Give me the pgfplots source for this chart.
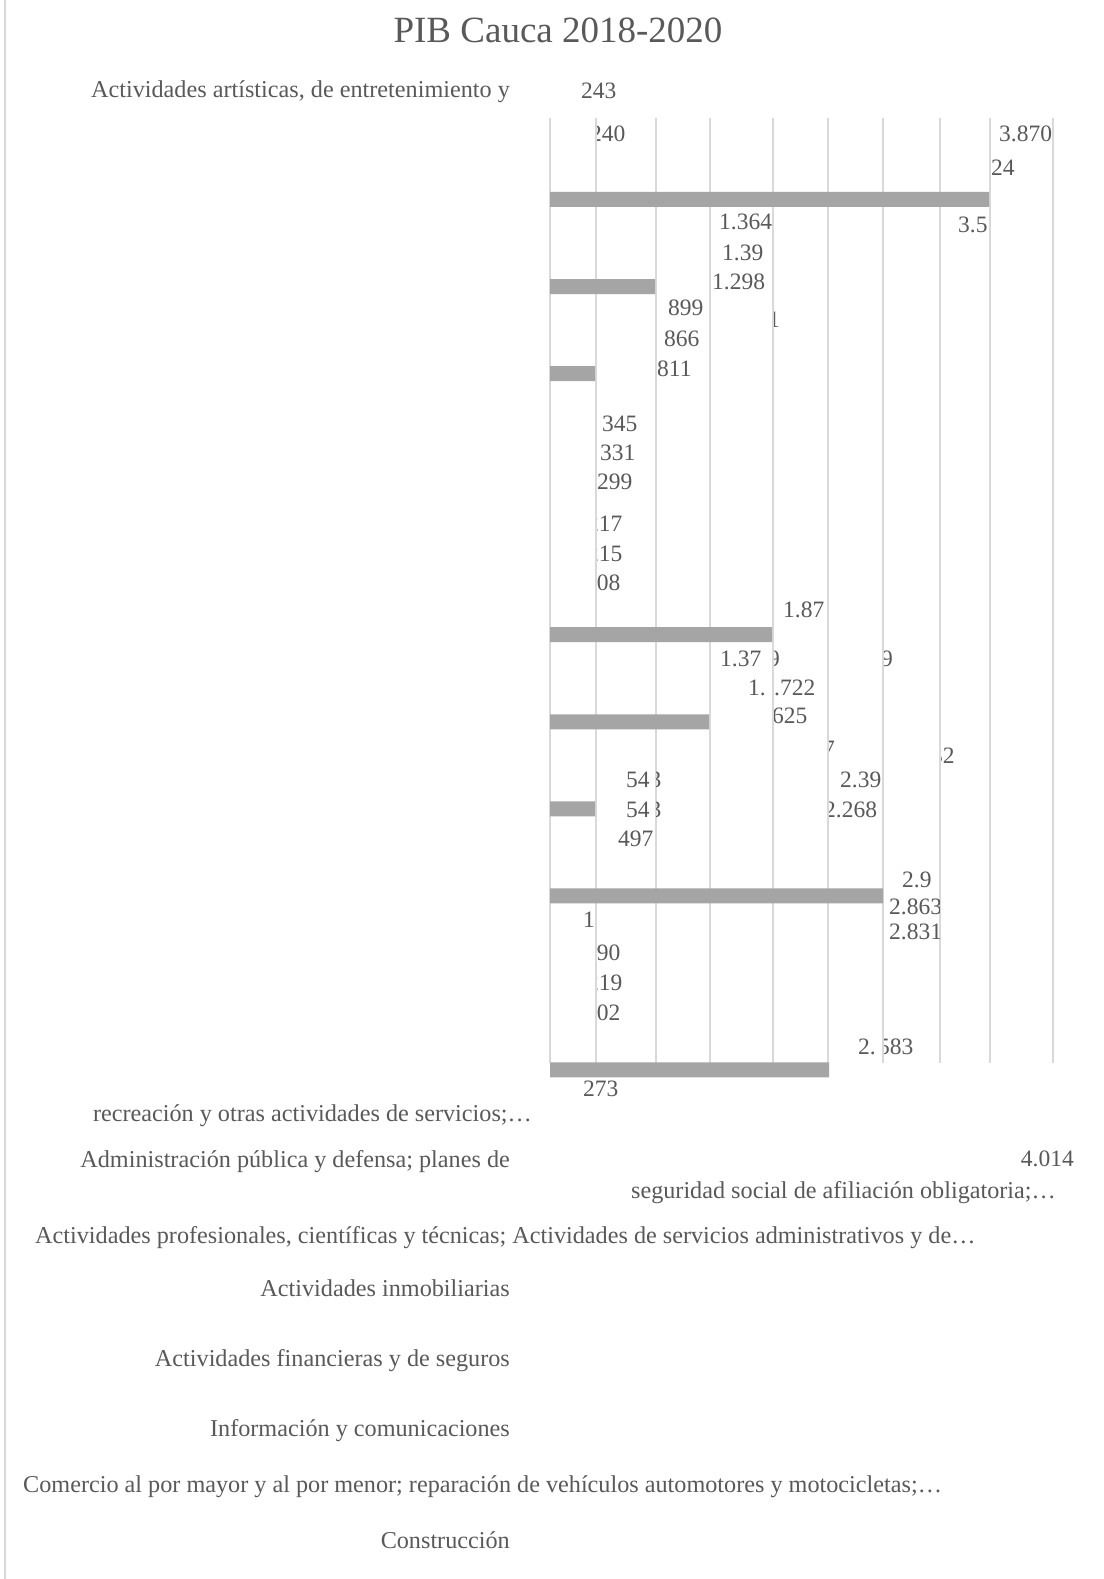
\documentclass[border=0pt]{standalone}
\usepackage{pgfplots}
\pgfplotsset{compat=1.18}
\usepackage{fontspec}
\setmainfont{Liberation Serif}
\definecolor{txt}{HTML}{595959}
\definecolor{gridc}{HTML}{D9D9D9}
\definecolor{barc}{HTML}{A5A5A5}
\newcommand{\lbl}{\fontsize{23.5}{28}\selectfont}
\newcommand{\cat}{\fontsize{24.2}{29}\selectfont}
\tikzset{t/.style={anchor=base west,inner sep=0pt,text=txt,font=\lbl},
         tr/.style={anchor=base east,inner sep=0pt,text=txt,font=\lbl},
         c/.style={anchor=base west,inner sep=0pt,text=txt,font=\cat},
         cr/.style={anchor=base east,inner sep=0pt,text=txt,font=\cat}}
% clipped at left: clip x, left x, baseline y, text
\newcommand{\CL}[4]{\begin{scope}\clip (#1,0) rectangle (1103,1579);\node[t] at (#2,#3) {#4};\end{scope}}
% clipped at right
\newcommand{\CR}[4]{\begin{scope}\clip (0,0) rectangle (#1,1579);\node[t] at (#2,#3) {#4};\end{scope}}
% text with a hidden band between #1 and #2
\newcommand{\CG}[5]{\begin{scope}\clip (0,0) rectangle (#1,1579) (#2,0) rectangle (1103,1579);\node[t] at (#3,#4) {#5};\end{scope}}
\begin{document}
\begin{tikzpicture}[x=1pt,y=1pt]
\useasboundingbox (0,0) rectangle (1103,1579);
\fill[white] (0,0) rectangle (1103,1579);
\draw[gridc, line width=1.6pt] (5,0) -- (5,1579);
\begin{axis}[at={(550pt,516pt)}, anchor=south west,
  width=503pt, height=945pt, scale only axis,
  xmin=0, xmax=503, ymin=-9.92, ymax=0.936,
  xbar, bar width=15pt,
  axis line style={draw=none}, tick style={draw=none},
  xtick={0,46,106,160,223,278,333,390,440,503}, xticklabel=\empty,
  ytick=\empty,
  xmajorgrids, major grid style={draw=gridc, line width=1.6pt},
  clip=false]
\addplot[fill=barc, draw=none] coordinates {(439,0) (105,-1) (45,-2) (222,-5) (159,-6) (45,-7) (333,-8) (279,-10)};
\end{axis}
\begin{scope}[y=-1pt, yshift=1579pt]
\node[anchor=base, inner sep=0pt, text=txt, font=\fontsize{37}{44}\selectfont] at (558,42.5) {PIB Cauca 2018-2020};
% category labels
\node[cr] at (510,98) {Actividades artísticas, de entretenimiento y};
\node[cr] at (532,1122) {recreación y otras actividades de servicios;…};
\node[cr] at (510,1168) {Administración pública y defensa; planes de};
\node[cr] at (1056,1199) {seguridad social de afiliación obligatoria;…};
\node[c] at (35,1244) {Actividades profesionales, científicas y técnicas; Actividades de servicios administrativos y de…};
\node[cr] at (510,1297) {Actividades inmobiliarias};
\node[cr] at (510,1367) {Actividades financieras y de seguros};
\node[cr] at (510,1437) {Información y comunicaciones};
\node[c] at (23,1493) {Comercio al por mayor y al por menor; reparación de vehículos automotores y motocicletas;…};
\node[cr] at (510,1549) {Construcción};
% value labels
\node[t] at (581,99) {243};
\CL{597}{590}{142}{240}
\node[t] at (999,142) {3.870};
\node[t] at (991,176) {24};
\node[t] at (719,230) {1.364};
\node[t] at (958,233) {3.5};
\node[t] at (722,261) {1.39};
\node[t] at (712,290) {1.298};
\node[t] at (668,316) {899};
\CL{774}{768}{328}{1};
\node[t] at (664,347) {866};
\node[t] at (657,377) {811};
\node[t] at (602,432) {345};
\node[t] at (600,461) {331};
\node[t] at (597,490) {299};
\CL{597}{587}{532}{217}
\CL{597}{587}{562}{215}
\CL{597}{585}{591}{208}
\node[t] at (783,618) {1.87};
\node[t] at (720,667) {1.37};
\CL{774}{768}{667}{9}
\CL{884}{881}{667}{9}
\node[t] at (748,696) {1.};
\node[t] at (774,696) {.722};
\CL{774}{772}{724}{625}
\CL{829}{823}{757}{7}
\CL{941}{931}{764}{32}
\CG{649.5}{656}{626}{788}{543}
\node[t] at (840,788) {2.39};
\CG{649.5}{656}{626}{818}{543}
\CL{829}{824}{818}{2.268}
\node[t] at (618,847) {497};
\node[t] at (902,888) {2.9};
\CR{939}{889}{915}{2.863}
\CR{939}{889}{940}{2.831}
\node[t] at (583,928) {1};
\CL{597}{585}{961}{290}
\CL{597}{587}{991}{219}
\CL{597}{585}{1021}{202}
\node[t] at (858,1055) {2.};
\CL{884}{878}{1055}{583}
\node[t] at (583,1097) {273};
\node[tr] at (1074,1167) {4.014};
\end{scope}
\end{tikzpicture}
\end{document}
